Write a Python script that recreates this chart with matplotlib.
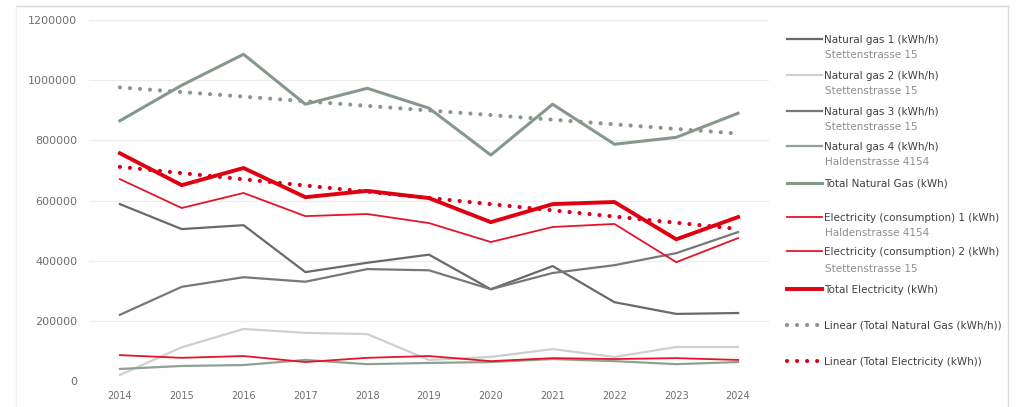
import matplotlib.pyplot as plt
import numpy as np
from matplotlib.lines import Line2D

years = np.arange(2014, 2025)

# values (kWh)
gas_1 = [588000, 505000, 518000, 362000, 393000, 420000, 305000, 382000, 262000, 223000, 226000]
gas_2 = [20000, 112000, 173000, 160000, 156000, 70000, 80000, 106000, 80000, 113000, 113000]
gas_3 = [220000, 313000, 345000, 330000, 372000, 368000, 305000, 359000, 385000, 425000, 495000]
gas_4 = [40000, 50000, 53000, 70000, 56000, 60000, 63000, 73000, 66000, 56000, 63000]
gas_total = [865000, 983000, 1086000, 920000, 973000, 907000, 751000, 920000, 787000, 810000, 890000]
elec_1 = [671000, 575000, 625000, 548000, 555000, 525000, 462000, 512000, 522000, 395000, 475000]
elec_2 = [86000, 77000, 83000, 63000, 77000, 83000, 66000, 76000, 73000, 76000, 70000]
elec_total = [757000, 651000, 708000, 611000, 632000, 608000, 528000, 588000, 595000, 471000, 545000]

y_ticks = [0, 200000, 400000, 600000, 800000, 1000000, 1200000]

# legend text: (main label, sub label)
labels = [
    ("Natural gas 1 (kWh/h)", "Stettenstrasse 15"),
    ("Natural gas 2 (kWh/h)", "Stettenstrasse 15"),
    ("Natural gas 3 (kWh/h)", "Stettenstrasse 15"),
    ("Natural gas 4 (kWh/h)", "Haldenstrasse 4154"),
    ("Total Natural Gas (kWh)", None),
    ("Electricity (consumption) 1 (kWh)", "Haldenstrasse 4154"),
    ("Electricity (consumption) 2 (kWh)", "Stettenstrasse 15"),
    ("Total Electricity (kWh)", None),
    ("Linear (Total Natural Gas (kWh/h))", None),
    ("Linear (Total Electricity (kWh))", None),
]

W, H = 1017, 407
fig = plt.figure(figsize=(W / 100, H / 100), dpi=100)
ax = fig.add_axes([89 / W, 1 - 381 / H, (769 - 89) / W, (381 - 20) / H])

red = "#e4142c"
lines = []
lines.append(ax.plot(years, gas_1, color="#6a6a6a", lw=1.6)[0])
lines.append(ax.plot(years, gas_2, color="#cfcfcf", lw=1.6)[0])
lines.append(ax.plot(years, gas_3, color="#787878", lw=1.6)[0])
lines.append(ax.plot(years, gas_4, color="#8fa194", lw=1.6)[0])
lines.append(ax.plot(years, gas_total, color="#84998a", lw=2.2)[0])
lines.append(ax.plot(years, elec_1, color=red, lw=1.3)[0])
lines.append(ax.plot(years, elec_2, color=red, lw=1.3)[0])
lines.append(ax.plot(years, elec_total, color="#e00010", lw=2.8)[0])

dots = dict(linestyle=(0, (0.01, 2.4)), dash_capstyle="round", lw=3.0)
for series, col in [(gas_total, "#8a978e"), (elec_total, "#d8001a")]:
    k, b = np.polyfit(years, series, 1)
    lines.append(ax.plot(years, k * years + b, color=col, **dots)[0])

ax.set_xlim(2013.5, 2024.5)
ax.set_ylim(0, 1200000)
ax.set_xticks(years)
ax.set_yticks(y_ticks)
ax.set_yticklabels([str(v) for v in y_ticks])
ax.tick_params(axis="y", length=0, pad=8.5, labelsize=8, labelcolor="#6e6e6e")
ax.tick_params(axis="x", length=0, pad=7, labelsize=7, labelcolor="#6e6e6e")
for s in ax.spines.values():
    s.set_visible(False)
ax.grid(axis="y", color="#ededed", lw=0.9)
ax.set_axisbelow(True)

# light outer frame
fig.add_artist(Line2D([16 / W, 1008 / W], [1 - 6 / H, 1 - 6 / H], color="#d4d4d4", lw=1.0))
fig.add_artist(Line2D([1008 / W, 1008 / W], [1 - 6 / H, 0], color="#dcdcdc", lw=1.0))
fig.add_artist(Line2D([16 / W, 16 / W], [1 - 6 / H, 0], color="#f0f0f0", lw=1.0))

# legend, one entry at a time so the rows can be spaced like the original
rows = [(40, 55), (76, 91), (112, 127), (147, 162), (184, None),
        (218, 233), (252, 269), (290, None), (326, None), (362, None)]
for line, (main, sub), (y_main, y_sub) in zip(lines, labels, rows):
    fig.legend([line], [main], loc="center left",
               bbox_to_anchor=(787 / W, 1 - y_main / H), frameon=False,
               borderpad=0, borderaxespad=0, handlelength=3.4, handletextpad=0.15,
               fontsize=7.5, labelcolor="#404040")
    if sub:
        fig.text(825 / W, 1 - y_sub / H, sub, fontsize=7.5, color="#8e8e8e", va="center")

fig.savefig("out.png", dpi=100)
